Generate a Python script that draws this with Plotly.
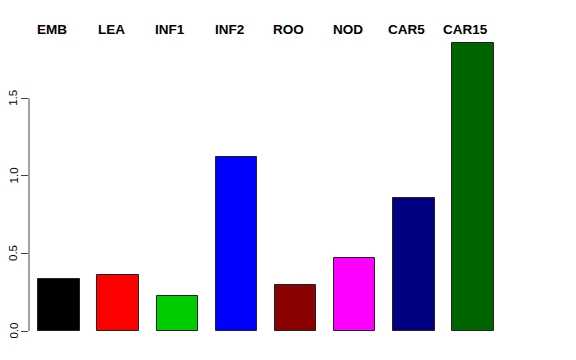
import plotly.graph_objects as go

categories = ["EMB", "LEA", "INF1", "INF2", "ROO", "NOD", "CAR5", "CAR15"]
values = [0.335, 0.361, 0.226, 1.123, 0.297, 0.471, 0.858, 1.858]
colors = ["#000000", "#FF0000", "#00CD00", "#0000FF", "#8B0000", "#FF00FF", "#000080", "#006400"]
ytick_vals = [0, 0.5, 1.0, 1.5]
ytick_text = ["0.0", "0.5", "1.0", "1.5"]

positions = list(range(len(categories)))

fig = go.Figure()
fig.add_trace(go.Bar(
    x=positions, y=values, width=0.70,
    marker=dict(color=colors, line=dict(color="#222222", width=1)),
    showlegend=False, hoverinfo="skip",
))

for p, name in zip(positions, categories):
    fig.add_annotation(x=p, y=0.968, xref="x", yref="paper", text="<b>" + name + "</b>",
                       showarrow=False, yanchor="middle", xanchor="center", xshift=-7,
                       font=dict(family="Liberation Sans, Arial, sans-serif", size=13.5, color="black"))

# y tick labels as rotated annotations
for v, t in zip(ytick_vals, ytick_text):
    fig.add_annotation(x=-0.031, y=v, xref="paper", yref="y", text=t, textangle=-90,
                       showarrow=False, xanchor="center", yanchor="middle",
                       font=dict(family="Liberation Sans, Arial, sans-serif", size=11.5, color="black"))

fig.add_shape(type="line", xref="paper", yref="y", x0=0, x1=0, y0=0, y1=1.5,
              line=dict(color="#444444", width=1))

fig.update_layout(
    width=568, height=352,
    margin=dict(l=21, r=50, t=12, b=29, autoexpand=False),
    plot_bgcolor="white", paper_bgcolor="white",
    bargap=0,
    xaxis=dict(range=[-0.507, 7.897], showgrid=False, zeroline=False, showline=False,
               showticklabels=False, ticks="", automargin=False),
    yaxis=dict(range=[0, 2.004], showgrid=False, zeroline=False, showline=False,
               tickmode="array", tickvals=ytick_vals, showticklabels=False,
               ticks="outside", ticklen=7, tickcolor="#444444", tickwidth=1,
               automargin=False),
)

fig.write_html("out.html")
